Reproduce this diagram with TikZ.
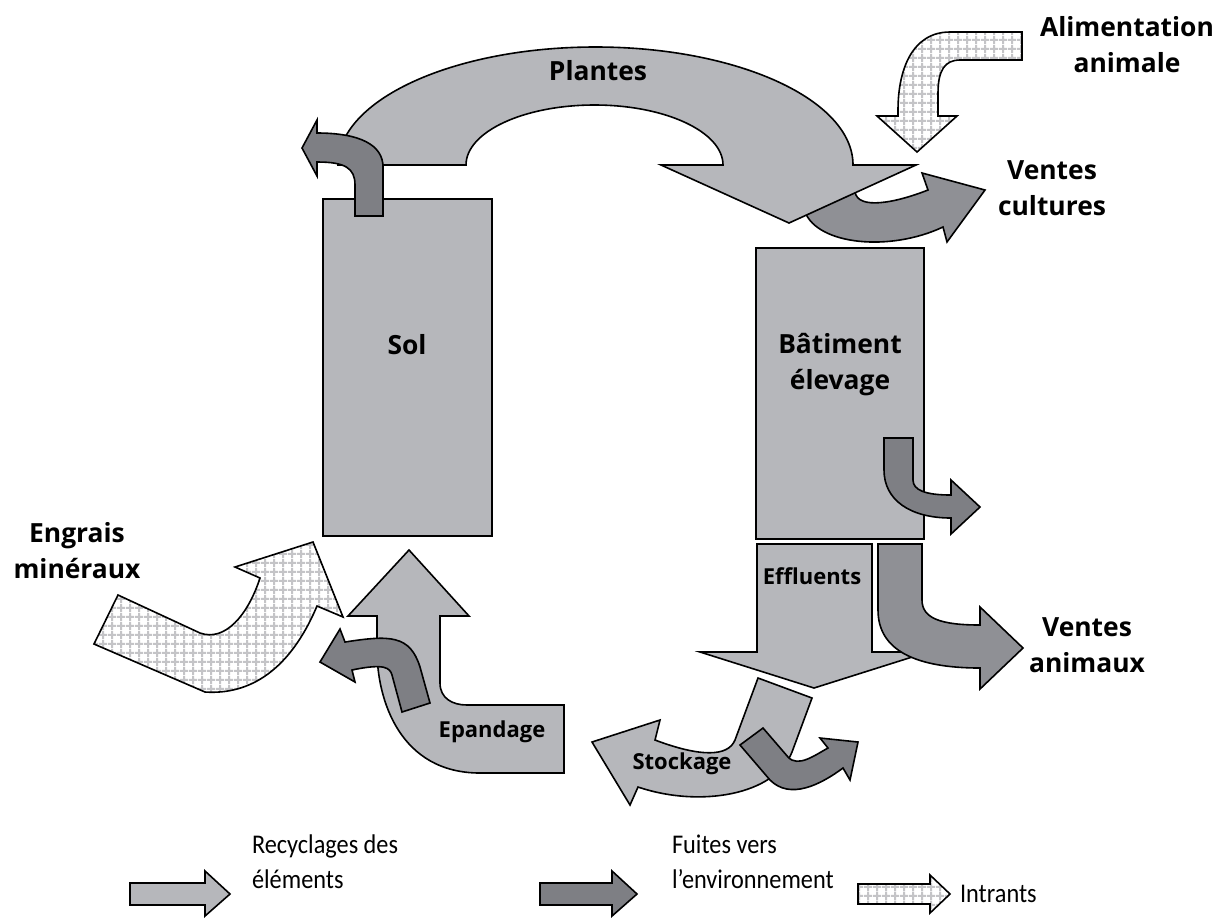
\documentclass[tikz,border=0pt]{standalone}
\usepackage{fontspec}
\setmainfont{Open Sans}
\newfontfamily\legendfont[FakeStretch=0.9]{Carlito}
\usetikzlibrary{patterns}

\definecolor{recycgray}{HTML}{B6B7BB}
\definecolor{fuitegray}{HTML}{7E7F84}
\definecolor{ventegray}{HTML}{8F9095}
\definecolor{gridgray}{HTML}{C4C4C7}

\pgfdeclarepatternformonly{intrantgrid}{\pgfqpoint{0pt}{0pt}}{\pgfqpoint{4.5pt}{4.5pt}}{\pgfqpoint{4.5pt}{4.5pt}}{%
  \pgfsetlinewidth{1.1pt}%
  \pgfpathmoveto{\pgfqpoint{0pt}{2.25pt}}\pgfpathlineto{\pgfqpoint{4.5pt}{2.25pt}}%
  \pgfpathmoveto{\pgfqpoint{2.25pt}{0pt}}\pgfpathlineto{\pgfqpoint{2.25pt}{4.5pt}}%
  \pgfusepathqstroke}

\tikzset{
  recyclage/.style={draw=black, line width=0.8pt, fill=recycgray},
  fuite/.style={draw=black, line width=0.8pt, fill=fuitegray},
  vente/.style={draw=black, line width=0.8pt, fill=ventegray},
  intrant/.style={draw=black, line width=0.8pt, preaction={fill=white}, pattern=intrantgrid, pattern color=gridgray},
  bloc/.style={draw=black, line width=1pt, fill=recycgray, inner sep=0pt},
  grandtitre/.style={font=\fontsize{13.2}{18}\selectfont\bfseries, align=center},
  petittitre/.style={font=\fontsize{11}{14}\selectfont\bfseries},
  legende/.style={font=\fontsize{13.5}{17.5}\selectfont\legendfont, align=left, anchor=west}
}

\begin{document}
\begin{tikzpicture}[x=0.5pt,y=-0.5pt]
\useasboundingbox (0,0) rectangle (1218,917);

% ventes cultures, sous la fleche des plantes
\draw[vente] (805,212) .. controls (818,245) and (890,252) .. (943,227) -- (947,242) -- (985,190) -- (922,173) -- (928,190) .. controls (895,203) and (858,210) .. (855,192) -- cycle;

% plantes
\draw[recyclage] (338,165) .. controls (338,99.8) and (453.3,47) .. (595.5,47) .. controls (737.7,47) and (853,99.8) .. (853,165) -- (916,165) -- (789,223) -- (661,165) -- (723,165) .. controls (723,131.9) and (665.5,105) .. (594.5,105) .. controls (523.5,105) and (466,131.9) .. (466,165) -- cycle;

% alimentation animale
\draw[intrant] (1022,32) -- (950,32) .. controls (912,32) and (898,70) .. (898,110) -- (898,116) -- (877,116) -- (917,152) -- (957,116) -- (938,116) -- (938,93) .. controls (938,70) and (945,60) .. (960,60) -- (1022,60) -- cycle;

\node[bloc, minimum width=84.5pt, minimum height=168.5pt] (sol) at (407.5,367.5) {};
\node[bloc, minimum width=84pt, minimum height=145.5pt] (batiment) at (840,393.5) {};

% fuites du sol
\draw[fuite] (355,216) -- (383,216) -- (383,167) .. controls (383,145) and (360,133) .. (317,133) -- (317,120) -- (302,148) -- (317,176) -- (317,162) .. controls (345,162) and (355,168) .. (355,185) -- cycle;

% fuites du batiment
\draw[fuite] (884,438) -- (913,438) -- (913,480) .. controls (913,490) and (925,495) .. (951,495) -- (951,480) -- (980,507) -- (951,534) -- (951,518) .. controls (910,518) and (884,500) .. (884,470) -- cycle;

% effluents
\draw[recyclage] (757,544) -- (872,544) -- (872,652) -- (928,652) -- (814,688) -- (700,652) -- (757,652) -- cycle;

% ventes animaux
\draw[vente] (878,544) -- (922,544) -- (922,600) .. controls (922,618) and (940,625) .. (980,625) -- (980,607) -- (1023,648) -- (980,689) -- (980,668) .. controls (915,668) and (878,650) .. (878,610) -- cycle;

% epandage
\draw[recyclage] (377,616) -- (348,616) -- (409,550) -- (469,616) -- (440,616) -- (440,683) .. controls (440,698) and (452,705) .. (467,705) -- (564,705) -- (564,773) -- (480,773) .. controls (400,773) and (377,700) .. (377,650) -- cycle;
\draw[fuite] (402,712) -- (430,703) -- (420,667) .. controls (410,635) and (390,635) .. (345,642) -- (340,629) -- (320,662) -- (355,682) -- (352,670) .. controls (385,663) and (390,668) .. (392,675) -- cycle;

% engrais mineraux
\draw[intrant] (118,595) -- (200,633) .. controls (225,642) and (248,615) .. (260,578) -- (235,567) -- (313,542) -- (343,617) -- (317,606) .. controls (290,670) and (250,695) .. (205,692) -- (94,644) -- cycle;

% stockage
\draw[recyclage] (758,678) -- (812,698) -- (792,752) .. controls (775,795) and (700,808) .. (638,787) -- (630,805) -- (592,742) -- (660,720) -- (655,740) .. controls (700,757) and (728,757) .. (735,740) -- cycle;
\draw[fuite] (740,745) -- (763,728) -- (788,757) .. controls (798,768) and (815,755) .. (828,748) -- (820,738) -- (858,742) -- (850,780) -- (843,768) .. controls (820,785) and (790,800) .. (770,780) -- cycle;

\node[grandtitre] (plantes) at (598,71) {Plantes};
\node[grandtitre] (soltxt) at (407,345) {Sol};
\node[grandtitre] (battxt) at (840,365) {Bâtiment\\élevage};
\node[petittitre] (efftxt) at (812,576) {Effluents};
\node[petittitre] (epatxt) at (492,732) {Epandage};
\node[petittitre] (stotxt) at (682,764) {Stockage};
\node[grandtitre] (alimtxt) at (1127,45) {Alimentation\\animale};
\node[grandtitre] (vculttxt) at (1052,188) {Ventes\\cultures};
\node[grandtitre] (vanimtxt) at (1087,645) {Ventes\\animaux};
\node[grandtitre] (engrtxt) at (77,551) {Engrais\\minéraux};

% legende
\draw[recyclage] (130,883) -- (205,883) -- (205,871) -- (230,894) -- (205,916) -- (205,905) -- (130,905) -- cycle;
\node[legende] (legrecyc) at (245,862) {Recyclages des\\éléments};
\draw[fuite] (540,883) -- (612,883) -- (612,871) -- (637,894) -- (612,916) -- (612,905) -- (540,905) -- cycle;
\node[legende] (legfuite) at (665,862) {Fuites vers\\l’environnement};
\draw[intrant] (858,884) -- (930,884) -- (930,875) -- (950,894) -- (930,913) -- (930,904) -- (858,904) -- cycle;
\node[legende] (legintr) at (953,894) {Intrants};
\end{tikzpicture}
\end{document}
